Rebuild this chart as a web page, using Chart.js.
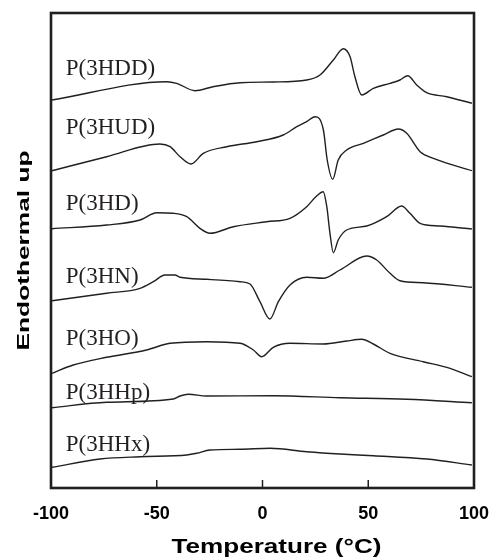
<!DOCTYPE html>
<html>
<head>
<meta charset="utf-8">
<script src="https://cdn.jsdelivr.net/npm/chart.js@4.4.1/dist/chart.umd.min.js"></script>
<style>
html,body{margin:0;padding:0;background:#fff;}
#wrap{width:492px;height:560px;}
</style>
</head>
<body>
<div id="wrap"><canvas id="c" width="492" height="560"></canvas></div>
<script>
// Sample names (top to bottom)
const names = ["P(3HDD)", "P(3HUD)", "P(3HD)", "P(3HN)", "P(3HO)", "P(3HHp)", "P(3HHx)"];
// x axis ticks (°C)
const tickValues = [-100, -50, 0, 50, 100];
// Label anchor levels (data units) for each curve label
const labelX = -93;
const labelY = [413, 354, 278, 205, 143, 89, 37];

// Temperatures (°C) and heat-flow readings (arbitrary units, offset stacked)
const tHDD = [-99.5,-45.3,-40.6,-31.9,-23.4,-10.6,5.1,20.9,27.2,33.5,38.2,41.4,43.7,46.9,52.4,60.3,65,68.7,72.9,77.6,87.1,99];
const yHDD = [388,406.3,404.7,397.3,401.3,405.3,406,408,413,428,439.3,431.3,411.3,393,399.7,404.7,408,412.3,403,395.3,391.3,384.7];

const tHUD = [-99.5,-73.7,-48.5,-43.7,-39,-33.8,-28,-16.9,-2.7,9.8,16.2,20.9,24.8,28.8,30.6,33.2,35.8,39.8,47.7,57.1,64.2,68.2,74.5,80.8,99];
const yHUD = [317.3,331.3,344,341.3,331.3,324,334.7,341.3,346.3,353,361.3,366.3,371.3,358,328,308.7,328,338,344.7,353,359,354.7,336.3,329.7,317.3];

const tHD = [-99.5,-73.7,-57.9,-50,-42.2,-35.8,-29.6,-24.8,-13.8,2,13,20.9,25.6,28.7,30.4,31.9,33.5,35.8,39.8,49.3,58.7,65.8,69.7,74.5,83.9,99];
const yHD = [259.3,263,268,275.3,274.7,271.3,259.7,254.7,261.3,266.3,269.7,281.3,292,296.3,281.3,254.7,235.3,248,258,262,271.3,282,274.7,264.7,262,259];

const tHN = [-99.5,-73.7,-57.9,-51.6,-46.1,-41.4,-39,-26.4,-10.6,-5.9,-1.2,3.5,7.5,13,20.9,28.7,36.6,49.3,54,60.3,65,76,99];
const yHN = [187.3,194.7,199.7,206.3,213,213,210.7,208.7,206.3,204,186.3,169,186.3,203,210.7,209.7,218,232,228,214.7,207.3,205.3,200.7];

const tHO = [-99.5,-89.5,-73.7,-54.8,-43.7,-26.4,-10.6,-4.3,-0.4,5.1,13,28.7,39.8,46.9,52.4,60.3,76,88.7,99];
const yHO = [114.7,123,130.7,138,144.7,146.3,144.7,138,131.3,140.7,144.7,144,147,148.7,144,134.7,126.3,119.7,111.3];

const tHHp = [-99.5,-73.7,-42.2,-39,-35.1,-26.4,5.1,36.6,68.2,99];
const yHHp = [80.3,85.7,89,92,93.7,92,92.3,90.3,88.7,85.3];

const tHHx = [-99.5,-76.8,-57.9,-35.8,-31.1,-24.8,-10.6,3.5,20.9,36.6,52.4,77.6,99];
const yHHx = [20.7,29,31.3,33,34.7,38,38.7,39.7,36.3,34,32.3,29,23];

const series = [[tHDD,yHDD],[tHUD,yHUD],[tHD,yHD],[tHN,yHN],[tHO,yHO],[tHHp,yHHp],[tHHx,yHHx]];
const INK = '#231f20';

const datasets = series.map((s, i) => ({
  label: names[i],
  data: s[0].map((t, k) => ({x: t, y: s[1][k]})),
  borderColor: INK,
  borderWidth: 1.4,
  pointRadius: 0,
  fill: false,
  cubicInterpolationMode: 'monotone'
}));

const annot = {
  id: 'annot',
  afterDatasetsDraw(chart) {
    const {ctx, chartArea: a, scales: {x, y}} = chart;
    ctx.save();
    // frame
    ctx.strokeStyle = INK;
    ctx.lineWidth = 2.6;
    ctx.strokeRect(a.left, a.top, a.right - a.left, a.bottom - a.top);
    // inward tick marks
    ctx.lineWidth = 1.5;
    tickValues.forEach(t => {
      const px = x.getPixelForValue(t);
      ctx.beginPath();
      ctx.moveTo(px, a.bottom);
      ctx.lineTo(px, a.bottom - 8);
      ctx.stroke();
    });
    // curve labels
    ctx.fillStyle = INK;
    ctx.font = '23px "Liberation Serif", "Times New Roman", serif';
    ctx.textBaseline = 'alphabetic';
    ctx.textAlign = 'left';
    names.forEach((n, i) => {
      ctx.fillText(n, x.getPixelForValue(labelX), y.getPixelForValue(labelY[i]));
    });
    // axis titles (stretched horizontally like the reference)
    ctx.fillStyle = '#000';
    ctx.textAlign = 'center';
    ctx.textBaseline = 'middle';
    ctx.font = 'bold 20px "Liberation Sans", Arial, sans-serif';
    const xt = 'Temperature (°C)';
    let w = ctx.measureText(xt).width;
    ctx.save();
    ctx.translate((a.left + a.right) / 2 + 14, a.bottom + 59);
    ctx.scale(210 / w, 1);
    ctx.fillText(xt, 0, 0);
    ctx.restore();
    const yt = 'Endothermal up';
    ctx.font = 'bold 17px "Liberation Sans", Arial, sans-serif';
    w = ctx.measureText(yt).width;
    ctx.save();
    ctx.translate(24, (a.top + a.bottom) / 2);
    ctx.rotate(-Math.PI / 2);
    ctx.scale(200 / w, 1);
    ctx.fillText(yt, 0, 0);
    ctx.restore();
    ctx.restore();
  }
};

new Chart(document.getElementById('c'), {
  type: 'line',
  data: {datasets},
  options: {
    responsive: false,
    animation: false,
    events: [],
    layout: {padding: {left: 51, right: 18, top: 13, bottom: 0}},
    plugins: {legend: {display: false}, tooltip: {enabled: false}, title: {display: false}},
    scales: {
      x: {
        type: 'linear',
        min: -100, max: 100,
        afterFit: (s) => { s.height = 72; s.paddingLeft = 0; s.paddingRight = 0; },
        afterBuildTicks: (s) => { s.ticks = tickValues.map(v => ({value: v})); },
        grid: {display: false, drawTicks: false},
        border: {display: false},
        ticks: {
          padding: 15,
          color: '#000',
          font: {family: '"Liberation Sans", Arial, sans-serif', size: 18, weight: 'bold'},
          maxRotation: 0,
          autoSkip: false
        }
      },
      y: {
        type: 'linear',
        display: false,
        min: 0, max: 475
      }
    }
  },
  plugins: [annot]
});
</script>
</body>
</html>
